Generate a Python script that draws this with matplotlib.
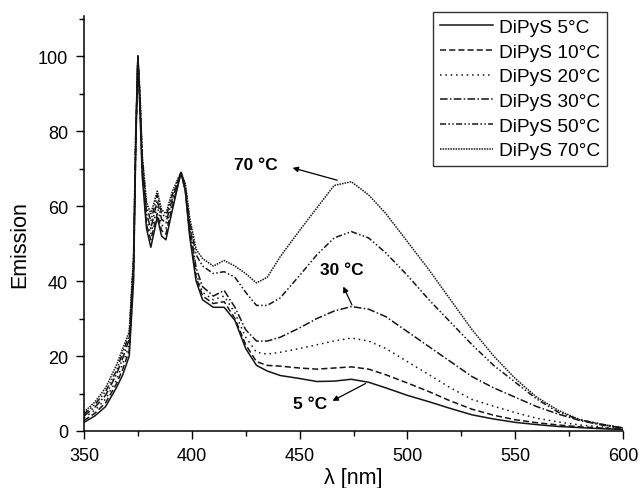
import matplotlib
matplotlib.use("Agg")
import matplotlib.pyplot as plt

plt.rcParams['font.family'] = ['Liberation Sans', 'DejaVu Sans']

# emission spectra of DiPyS at several temperatures
wavelength = [350, 355, 360, 365, 368, 371, 373, 374, 375, 376, 377, 379, 381, 384, 386,
              388, 391, 395, 397, 399, 402, 405, 410, 415, 420, 425, 430, 435, 441, 450,
              458, 466, 474, 482, 490, 500, 510, 520, 530, 540, 550, 560, 570, 580, 590, 600]

em_5 = [2.3, 4, 6.5, 11.5, 15, 20, 40, 75, 100, 85, 68, 54, 49, 57, 52,
        51, 59, 69, 64, 52, 40, 35, 33, 33, 29.5, 22, 17.5, 16, 14.8, 14,
        13.2, 13.3, 13.8, 13, 11.5, 9.5, 7.8, 6, 4.3, 3.2, 2.3, 1.7, 1.2, 0.9, 0.6, 0.4]
em_10 = [2.8, 4.7, 7.5, 12.5, 16.5, 21.5, 42, 76, 100, 86, 70, 55, 51, 58, 53.5,
         52.5, 60, 69, 64, 53, 41, 36, 34, 34.5, 30, 23, 18.5, 17.5, 17.3, 16.8,
         16.5, 16.8, 17.1, 16.5, 15, 12.8, 10.5, 8, 5.8, 4.2, 3, 2.2, 1.6, 1.1, 0.8, 0.5]
em_20 = [3.5, 5.5, 8.5, 13.5, 18, 23, 44, 77, 100, 87, 71, 56.5, 52.5, 60, 55,
         54, 61, 69, 64.5, 54, 42, 37, 35, 36, 31.5, 25, 21, 20.5, 21, 22,
         23, 24, 24.8, 24, 22, 18.5, 15, 11.5, 8.4, 6.6, 4.9, 3.4, 2.4, 1.6, 1.1, 0.6]
em_30 = [4, 6.3, 9.5, 15, 19.5, 24.5, 45, 78, 100, 88, 72, 58, 54, 61.5, 56.5,
         55.5, 62, 69, 65, 55, 43.5, 38.5, 36, 37.5, 33, 27, 24, 24, 25, 27.5,
         30, 32, 33.2, 32.5, 30.5, 26.5, 22.5, 18.5, 14.5, 11.5, 9, 6.5, 4.5, 2.8, 1.6, 0.8]
em_50 = [4.5, 7, 10.5, 16, 21, 25.5, 46, 79, 100, 89, 73, 60, 56, 63, 58,
         57, 63, 69, 65.5, 56, 47, 44, 42, 42.5, 41, 37, 33.5, 33.5, 35.5, 41.5,
         47, 51.5, 53.2, 51.5, 47.5, 41.5, 35, 29, 23, 17.5, 13, 8.5, 5, 3, 1.8, 0.8]
em_70 = [5, 7.7, 11.5, 17.5, 22, 26.5, 47, 80, 100, 90, 74, 61, 58, 64, 59,
         58, 64, 69, 66, 57, 48.5, 46, 44, 45.5, 44, 42, 39.5, 41, 46.5, 53.5,
         59.5, 65.5, 66.5, 63, 58, 50.5, 43, 35, 27, 20, 14, 9, 5.5, 3, 1.8, 0.8]

series = [em_5, em_10, em_20, em_30, em_50, em_70]
labels = ['DiPyS 5°C', 'DiPyS 10°C', 'DiPyS 20°C', 'DiPyS 30°C', 'DiPyS 50°C', 'DiPyS 70°C']
styles = ['-', (0, (4, 2)), (0, (1, 2.5)), (0, (5, 1.5, 1, 1.5)),
          (0, (4, 1.5, 1, 1.5, 1, 1.5)), (0, (1, 0.7))]

fig = plt.figure(figsize=(6.41, 4.89), dpi=100)
ax = fig.add_axes([0.131, 0.1166, 0.841, 0.8485])

for y, lab, ls in zip(series, labels, styles):
    ax.plot(wavelength, y, color='#151515', lw=1.1, ls=ls, label=lab)

ax.set_xlim(350, 600)
ax.set_ylim(0, 110.7)
ax.set_xticks([350, 400, 450, 500, 550, 600])
ax.set_xticks([375, 425, 475, 525, 575], minor=True)
ax.set_yticks([0, 20, 40, 60, 80, 100])
ax.set_yticks([10, 30, 50, 70, 90, 110], minor=True)
ax.tick_params(which='major', direction='out', length=6, width=1, labelsize=13, pad=5.5)
ax.tick_params(which='minor', direction='out', length=3.5, width=1)
for side in ['top', 'right']:
    ax.spines[side].set_visible(False)
for side in ['left', 'bottom']:
    ax.spines[side].set_linewidth(1.1)

ax.set_xlabel('λ [nm]', fontsize=15.5, labelpad=2)
ax.set_ylabel('Emission', fontsize=15.5)
ax.yaxis.set_label_coords(-0.099, 0.452)

leg = fig.legend(loc='upper right', bbox_to_anchor=(0.947, 0.974), fontsize=13.8,
                 frameon=True, fancybox=False, edgecolor='black', handlelength=2.8,
                 handletextpad=0.3, labelspacing=0.38, borderpad=0.35, borderaxespad=0)
leg.get_frame().set_linewidth(1.0)

arrow = dict(arrowstyle='-|>', color='black', lw=0.9, mutation_scale=8)
ax.annotate('', xy=(445.5, 70.4), xytext=(468.7, 66.7), arrowprops=arrow)
ax.text(429.8, 71.2, '70 °C', fontsize=12.5, fontweight='bold', ha='center', va='center')
ax.annotate('', xy=(469.7, 39.2), xytext=(474.8, 33.0), arrowprops=arrow)
ax.text(469.4, 43.2, '30 °C', fontsize=12.5, fontweight='bold', ha='center', va='center')
ax.annotate('', xy=(464.1, 7.7), xytext=(481.7, 13.0), arrowprops=arrow)
ax.text(454.8, 7.2, '5 °C', fontsize=12.5, fontweight='bold', ha='center', va='center')

fig.savefig('out.png', dpi=100)
